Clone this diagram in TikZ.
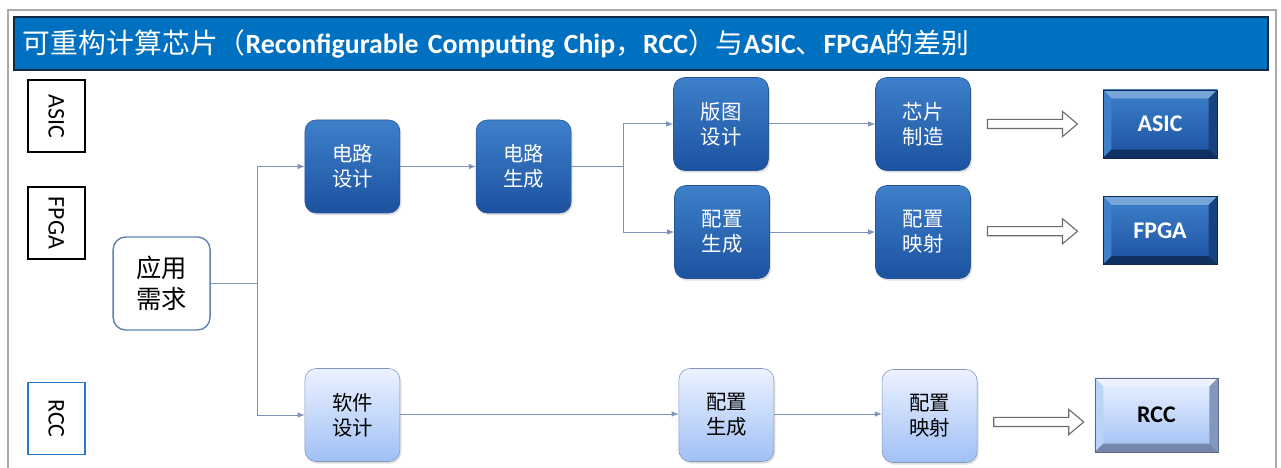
\documentclass[tikz,border=0pt]{standalone}
\usepackage{fontspec}
\setmainfont{Carlito}
\newfontfamily\cjk{Noto Sans CJK SC}
\usetikzlibrary{arrows.meta,shapes.arrows,shadows,calc}

\definecolor{titleblue}{RGB}{0,112,192}
\definecolor{titleedge}{RGB}{20,40,70}
\definecolor{framegray}{RGB}{170,170,170}
\definecolor{hwtop}{RGB}{62,128,202}
\definecolor{hwbottom}{RGB}{28,82,160}
\definecolor{hwedge}{RGB}{40,85,150}
\definecolor{swtop}{RGB}{236,242,255}
\definecolor{swbottom}{RGB}{160,192,245}
\definecolor{swedge}{RGB}{130,150,190}
\definecolor{linkgray}{RGB}{125,145,185}
\definecolor{neededge}{RGB}{95,130,180}
\definecolor{rccblue}{RGB}{40,120,200}

\begin{document}
\begin{tikzpicture}[
    font=\cjk,
    titlebar/.style={draw=titleedge, line width=1.2pt, fill=titleblue, text=white,
      minimum width=31.35cm, minimum height=1.325cm, text width=30.9cm, align=left},
    tagbox/.style={draw=black, line width=1.4pt, fill=white, rotate=-90,
      minimum width=1.8cm, minimum height=1.425cm, font=\fontsize{17}{20}\selectfont},
    needbox/.style={draw=neededge, line width=1pt, fill=white, rounded corners=9pt,
      minimum width=2.425cm, minimum height=2.325cm, align=center,
      font=\cjk\fontsize{18}{22}\selectfont},
    hwbox/.style={draw=hwedge, rounded corners=8pt, top color=hwtop, bottom color=hwbottom,
      text=white, minimum width=2.375cm, minimum height=2.325cm, align=center,
      font=\cjk\fontsize{14.5}{18}\selectfont,
      drop shadow={opacity=0.25, shadow xshift=1pt, shadow yshift=-1.5pt}},
    swbox/.style={hwbox, draw=swedge, top color=swtop, bottom color=swbottom, text=black},
    result/.style n args={4}{draw=#4!80!black, minimum width=2.85cm, minimum height=1.7cm,
      font=\bfseries\fontsize{17}{20}\selectfont,
      path picture={
        \coordinate (pa) at (path picture bounding box.north west);
        \coordinate (pb) at (path picture bounding box.north east);
        \coordinate (pc) at (path picture bounding box.south east);
        \coordinate (pd) at (path picture bounding box.south west);
        \fill[#1] (pa) -- (pb) -- ([shift={(-6pt,-6pt)}]pb) -- ([shift={(6pt,-6pt)}]pa) -- cycle;
        \fill[#2] (pa) -- ([shift={(6pt,-6pt)}]pa) -- ([shift={(6pt,6pt)}]pd) -- (pd) -- cycle;
        \fill[#3] (pb) -- (pc) -- ([shift={(-6pt,6pt)}]pc) -- ([shift={(-6pt,-6pt)}]pb) -- cycle;
        \fill[#4] (pd) -- ([shift={(6pt,6pt)}]pd) -- ([shift={(-6pt,6pt)}]pc) -- (pc) -- cycle;
      }},
    hwresult/.style={result={hwtop!70!white}{hwtop}{hwbottom!80!black}{hwbottom!60!black},
      top color=hwtop, bottom color=hwbottom, text=white},
    swresult/.style={result={swtop}{swbottom!70!white}{swedge}{swedge!90!black},
      top color=swtop, bottom color=swbottom, text=black},
    fat/.style={single arrow, draw=gray!85!black, fill=white, line width=0.8pt,
      minimum height=2.25cm, inner sep=0.1cm, single arrow head extend=0.2cm,
      single arrow tip angle=80},
    link/.style={draw=linkgray, line width=0.7pt},
    flow/.style={link, -{Latex[length=5pt,width=4pt]}}
]
\useasboundingbox (0,0) rectangle (32.025,11.7);
\fill[white] (0,0) rectangle (32.025,11.7);
\draw[framegray, line width=1pt] (0.2,-0.5) rectangle (31.9,11.45);

% title
\node[titlebar, font=\fontsize{19.8}{22}\selectfont] (title) at (16.025,10.6125)
  {{\cjk 可重构计算芯片（}\textbf{Reconfigurable Computing Chip}{\cjk ，}\textbf{RCC}{\cjk ）与}\textbf{ASIC}{\cjk 、}\textbf{FPGA}{\cjk 的差别}};

% row tags
\node[tagbox] (tasic) at (1.41,8.8) {ASIC};
\node[tagbox] (tfpga) at (1.41,6.125) {FPGA};
\node[tagbox, draw=rccblue] (trcc) at (1.41,1.2375) {RCC};

% flow boxes
\node[needbox] (need) at (4.04,4.6125) {应用\\需求};
\node[hwbox] (cd) at (8.81,7.5375) {电路\\设计};
\node[hwbox] (cg) at (13.09,7.5375) {电路\\生成};
\node[hwbox] (bt) at (18.025,8.6) {版图\\设计};
\node[hwbox] (pz1) at (18.05,5.9) {配置\\生成};
\node[hwbox] (xp) at (23.075,8.6) {芯片\\制造};
\node[hwbox] (ys1) at (23.075,5.9) {配置\\映射};
\node[swbox] (sd) at (8.81,1.325) {软件\\设计};
\node[swbox] (pz2) at (18.16,1.325) {配置\\生成};
\node[swbox] (ys2) at (23.24,1.3) {配置\\映射};

% results
\node[hwresult] (asic) at (29.0,8.6) {ASIC};
\node[hwresult] (fpga) at (29.0,5.9375) {FPGA};
\node[swresult, minimum width=3.075cm, minimum height=1.85cm] (rcc) at (28.91,1.325) {RCC};

% branches
\coordinate (br1) at (6.425,4.6125);
\coordinate (br2) at (15.575,7.5375);
\draw[link] (need.east) -- (br1);
\draw[flow] (br1) |- (cd.west);
\draw[flow] (br1) |- (sd.west);
\draw[flow] (cd) -- (cg);
\draw[link] (cg.east) -- (br2);
\draw[flow] (br2) |- (bt.west);
\draw[flow] (br2) |- (pz1.west);
\draw[flow] (bt) -- (xp);
\draw[flow] (pz1) -- (ys1);
\draw[flow] (sd.east |- 0,1.35) -- (pz2.west |- 0,1.35);
\draw[flow] (pz2.east |- 0,1.35) -- (ys2.west |- 0,1.35);

% block arrows
\node[fat, xshift=-5pt] (a1) at ($(xp.east)!0.5!(asic.west)$) {};
\node[fat, xshift=-5pt] (a2) at ($(ys1.east)!0.5!(fpga.west)$) {};
\node[fat] (a3) at ($(ys2.east |- 0,1.15)!0.5!(rcc.west |- 0,1.15)$) {};
\end{tikzpicture}
\end{document}
